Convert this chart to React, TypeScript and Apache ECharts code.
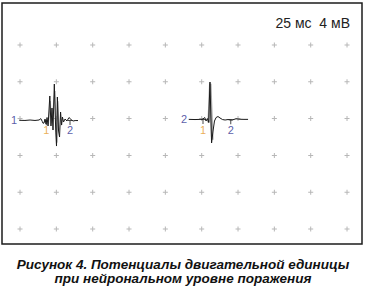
import React, { useEffect, useRef } from "react";
import * as echarts from "echarts";

// axis scale: 25 ms per division (x), 4 mV per division (y)
const X_MIN = -12.4;
const X_MAX = 235.3;
const Y_MIN = -13.63;
const Y_MAX = 12.57;

const gridXms = [0, 25, 50, 75, 100, 125, 150, 175, 200, 225];
const gridYmv = [8, 4, 0, -4, -8, -12];

const scaleText = "25 мс  4 мВ";
const captionLine1 = "Рисунок 4. Потенциалы двигательной единицы";
const captionLine2 = "при нейрональном уровне поражения";

// MUP 1 (polyphasic): [ms, mV]
const wave1: [number, number][] = [
  [-0.5, -0.18], [3.4, -0.2], [6.9, -0.15], [10.3, -0.2], [13.1, -0.15],
  [14.3, 0.0], [15.3, -0.3], [15.8, -0.5], [16.5, -0.48], [17.2, -0.04],
  [17.9, -0.59], [18.6, 0.12], [19.3, -0.8], [20.5, 2.46], [21.3, -0.8],
  [22.0, 1.15], [22.7, -1.24], [23.6, 3.76], [24.6, -1.46], [25.1, -2.98],
  [25.7, 2.35], [26.5, -1.35], [27.2, -2.0], [27.9, 0.72], [28.6, -0.7],
  [29.2, 0.17], [29.9, -0.37], [31.0, -0.04], [32.3, -0.26], [33.7, 0.12],
  [35.1, -0.1], [36.5, -0.26], [37.9, -0.21], [39.9, -0.21],
];

// MUP 2 (high amplitude): [ms, mV]
const wave2: [number, number][] = [
  [116.1, -0.08], [120.4, -0.1], [124.6, -0.08], [125.9, -0.04], [127.1, 0.12],
  [128.0, -0.26], [128.9, 0.01], [129.8, -0.42], [130.7, 3.98], [131.8, -2.65],
  [132.8, -1.35], [133.8, -0.26], [134.9, 0.12], [136.2, 0.23], [137.6, 0.07],
  [139.3, -0.1], [141.1, -0.15], [143.1, -0.1], [145.9, -0.15], [148.6, -0.02],
  [151.4, -0.07], [154.1, -0.08], [156.9, -0.08],
];

// superimposed (grey) trace of MUP 2 main spike
const wave2Shade: [number, number][] = [
  [129.8, -0.42], [130.9, 3.8], [132.3, -2.3],
];
// superimposed (grey) traces of MUP 1
const wave1Shade: [number, number][] = [
  [19.6, -0.6], [20.9, 1.9], [21.7, -0.5], [24.0, 3.0], [25.4, -2.6], [26.0, 1.9], [26.8, -1.2],
];

// markers: [ms, mV baseline]
const markers: [number, number][] = [
  [18.1, -0.18], [34.4, -0.15], [125.9, -0.04], [145.0, -0.08],
];
const markerLabels = ["1", "2", "1", "2"];
const markerLabelY = -1.25;

// trace labels
const traceLabels: { x: number; y: number; text: string }[] = [
  { x: -4.1, y: -0.15, text: "1" },
  { x: 112.8, y: -0.08, text: "2" },
];

const NAVY = "#2e3192";
const ORANGE = "#e59a2c";

export default function App() {
  const ref = useRef<HTMLDivElement>(null);
  useEffect(() => {
    if (!ref.current) return;
    const chart = echarts.init(ref.current, undefined, { renderer: "svg" });
    const gridPts: [number, number][] = [];
    gridYmv.forEach((y) => gridXms.forEach((x) => gridPts.push([x, y])));
    const plus = "path://M2,0L3,0L3,2L5,2L5,3L3,3L3,5L2,5L2,3L0,3L0,2L2,2Z";
    const tee = "path://M0,0L4,0L4,1L2.5,1L2.5,5L1.5,5L1.5,1L0,1Z";
    const font = "'Liberation Sans', Arial, sans-serif";
    chart.setOption({
      animation: false,
      grid: {
        left: 2, top: 3, width: 360, height: 241,
        show: true, borderColor: "#1c1c1c", borderWidth: 1.5, backgroundColor: "#fff",
      },
      xAxis: { type: "value", min: X_MIN, max: X_MAX, show: false },
      yAxis: { type: "value", min: Y_MIN, max: Y_MAX, show: false },
      series: [
        {
          type: "scatter", data: gridPts, symbol: plus, symbolSize: 5,
          itemStyle: { color: "#a5a5a5" }, silent: true,
        },
        {
          type: "line", data: wave1Shade, showSymbol: false,
          lineStyle: { color: "#b0b0b0", width: 1 },
        },
        {
          type: "line", data: wave2Shade, showSymbol: false,
          lineStyle: { color: "#a8a8a8", width: 2.5 },
        },
        {
          type: "line", data: wave1, showSymbol: false,
          lineStyle: { color: "#1a1a1a", width: 1 },
        },
        {
          type: "line", data: wave2, showSymbol: false,
          lineStyle: { color: "#1a1a1a", width: 1 },
        },
        {
          type: "scatter", data: markers, symbol: tee, symbolSize: [4, 5],
          symbolOffset: [0, "50%"], itemStyle: { color: "#1a1a1a" },
        },
        {
          type: "scatter", symbolSize: 0,
          data: markers.map((m, i) => ({
            value: [m[0], markerLabelY], name: markerLabels[i],
            label: { color: i % 2 === 0 ? ORANGE : NAVY },
          })),
          label: {
            show: true, position: "inside", formatter: "{b}",
            fontFamily: font, fontSize: 11,
          },
        },
        {
          type: "scatter", symbolSize: 0,
          data: traceLabels.map((t) => ({ value: [t.x, t.y], name: t.text })),
          label: {
            show: true, position: "inside", formatter: "{b}",
            fontFamily: font, fontSize: 11, color: NAVY,
          },
        },
      ],
      graphic: [
        {
          type: "text", right: 16, top: 16,
          style: { text: scaleText, font: `14px ${font}`, fill: "#222" },
        },
        {
          type: "text", left: "center", top: 257,
          style: {
            text: captionLine1, font: `italic bold 13.5px ${font}`, fill: "#111",
            lineHeight: 14,
          },
        },
        {
          type: "text", left: "center", top: 271,
          style: {
            text: captionLine2, font: `italic bold 13.5px ${font}`, fill: "#111",
            lineHeight: 14,
          },
        },
      ],
    });
    return () => chart.dispose();
  }, []);
  return (
    <div
      ref={ref}
      style={{ position: "fixed", left: 0, top: 0, width: 366, height: 290, background: "#fff" }}
    />
  );
}
